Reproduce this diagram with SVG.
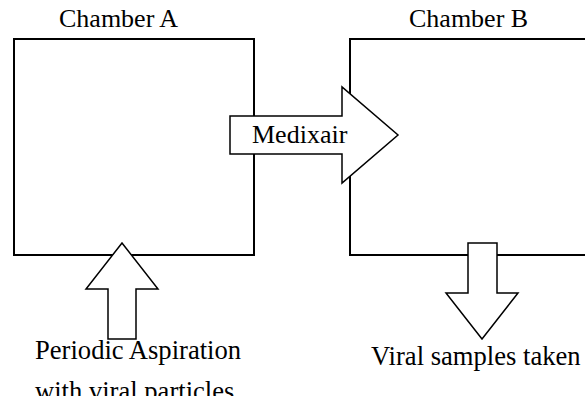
<svg xmlns="http://www.w3.org/2000/svg" width="585" height="396" viewBox="0 0 585 396">
<style>
.chamber{fill:#fff;stroke:#000;stroke-width:2}
.arrow{fill:#fff;stroke:#000;stroke-width:1.5;stroke-linejoin:miter}
.lbl{font-family:"Liberation Serif","Times New Roman",serif;font-size:26px;fill:#000}
.big{font-size:26.6px}
</style>
<rect width="585" height="396" fill="#fff"/>
<g id="chamberA">
<rect class="chamber" x="14" y="39" width="240" height="216"/>
<text class="lbl" x="59" y="27">Chamber A</text>
</g>
<g id="chamberB">
<rect class="chamber" x="350" y="39" width="260" height="216"/>
<text class="lbl" x="409" y="27">Chamber B</text>
</g>
<g id="connectors">
<g id="medixair">
<polygon class="arrow" points="230,116 342,116 342,87 398,135 342,183 342,154 230,154"/>
<text class="lbl" x="252" y="143" font-size="25.5">Medixair</text>
</g>
<g id="aspiration">
<polygon class="arrow" points="122,243 158,289 136,289 136,339 108,339 108,289 86,289"/>
<text class="lbl big" x="35" y="359">Periodic Aspiration</text>
<text class="lbl big" x="35" y="400">with viral particles</text>
</g>
<g id="samples">
<polygon class="arrow" points="468,243 497,243 497,293 518,293 482,339 446,293 468,293"/>
<text class="lbl big" x="371" y="365">Viral samples taken</text>
</g>
</g>
</svg>
